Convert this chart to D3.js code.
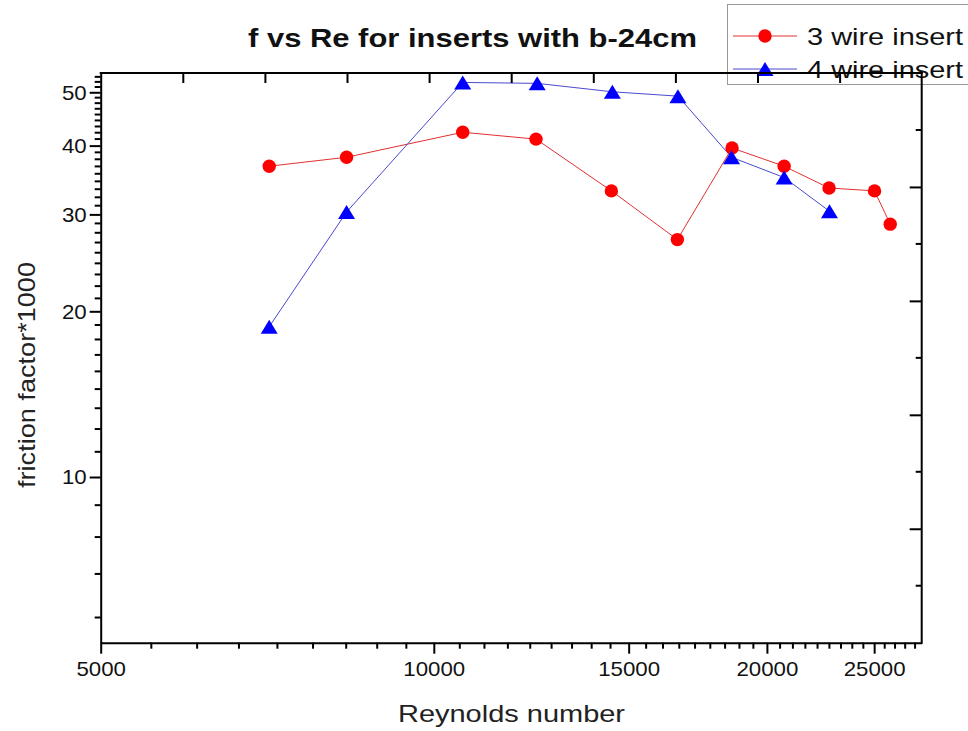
<!DOCTYPE html>
<html>
<head>
<meta charset="utf-8">
<script src="https://cdn.jsdelivr.net/npm/d3@7"></script>
<style>
  html, body { margin: 0; padding: 0; background: #fff; }
  svg { display: block; font-family: "Liberation Sans", Arial, sans-serif; }
</style>
</head>
<body>
<svg id="chart" width="968" height="731"></svg>
<script>
// ---- data ----
const seriesNames = ["3 wire insert", "4 wire insert"];
const re3 = [7100, 8340, 10620, 12370, 14470, 16600, 18600, 20730, 22760, 25020, 25850];
const f3  = [36.7, 38.1, 42.3, 41.1, 33.1, 27.0, 39.6, 36.7, 33.5, 33.1, 28.8];
const re4 = [7100, 8340, 10620, 12400, 14500, 16620, 18580, 20730, 22780];
const f4  = [18.75, 30.3, 52.1, 51.9, 50.1, 49.2, 38.1, 35.0, 30.4];
const xMajorTicks = [5000, 10000, 15000, 20000, 25000];
const yMajorTicks = [10, 20, 30, 40, 50];
const titleText = "f vs Re for inserts with b-24cm";
const xTitle = "Reynolds number";
const yTitle = "friction factor*1000";

// ---- layout ----
const L = 100.7, R = 921.7, T = 73, B = 642.7;
const svg = d3.select("#chart");
const stretch = 1.06;

const x = d3.scaleLog().domain([5000, 27600]).range([L, R]);
const y = d3.scaleLog().domain([5, 54.2]).range([B, T]);

// minor ticks (step = major step / 9)
const xMinor = [];
for (let k = 10; k < 50; k++) { const v = 5000 * k / 9; if (k % 9 !== 0 && v < 27600) xMinor.push(v); }
const yMinor = [];
for (let k = 5; k < 50; k++) { const v = 10 * k / 9; if (k % 9 !== 0 && v < 54.2) yMinor.push(v); }

// ---- legend (under the frame) ----
const lg = svg.append("g");
lg.append("rect").attr("x", 727.5).attr("y", 4.5).attr("width", 260).attr("height", 80)
  .attr("fill", "#fff").attr("stroke", "#999").attr("stroke-width", 1);

const triPath = (w, h) => `M0,${-h/2}L${w/2},${h/2}L${-w/2},${h/2}Z`;

// ---- series ----
const line = d3.line().x(d => x(d[0])).y(d => y(d[1]));
const d3pts = re3.map((v, i) => [v, f3[i]]);
const d4pts = re4.map((v, i) => [v, f4[i]]);

const plot = svg.append("g");
plot.append("path").datum(d3pts).attr("d", line).attr("fill", "none")
  .attr("stroke", "#e03030").attr("stroke-width", 1);
plot.append("path").datum(d4pts).attr("d", line).attr("fill", "none")
  .attr("stroke", "#4a4ad0").attr("stroke-width", 1);
plot.selectAll("circle.s3").data(d3pts).join("circle").attr("class", "s3")
  .attr("cx", d => x(d[0])).attr("cy", d => y(d[1])).attr("r", 6.7).attr("fill", "#ff0000");
plot.selectAll("path.s4").data(d4pts).join("path").attr("class", "s4")
  .attr("transform", d => `translate(${x(d[0])},${y(d[1])})`)
  .attr("d", triPath(17, 14)).attr("fill", "#0000ff");

// legend entries
const legY = [36, 69];
const legColors = ["#ff0000", "#0000ff"];
const legLine = ["#e03030", "#4a4ad0"];
seriesNames.forEach((name, i) => {
  lg.append("line").attr("x1", 733).attr("x2", 797).attr("y1", legY[i]).attr("y2", legY[i])
    .attr("stroke", legLine[i]).attr("stroke-width", 1);
  if (i === 0) {
    lg.append("circle").attr("cx", 765).attr("cy", legY[i]).attr("r", 6.7).attr("fill", legColors[i]);
  } else {
    lg.append("path").attr("transform", `translate(765,${legY[i]})`).attr("d", triPath(17, 14)).attr("fill", legColors[i]);
  }
  lg.append("text").attr("x", 807).attr("y", legY[i] + 9).attr("font-size", 24)
    .attr("textLength", 156).attr("lengthAdjust", "spacingAndGlyphs").attr("fill", "#111").text(name);
});

// ---- axes ----
function styleAxis(g) {
  g.select(".domain").attr("stroke", "#000").attr("stroke-width", 2);
  g.selectAll(".tick line").attr("stroke", "#000").attr("stroke-width", 2);
  g.selectAll(".tick text").attr("fill", "#111").attr("font-size", 21);
}
function stretchText(sel) {
  sel.each(function () {
    const len = this.getComputedTextLength();
    d3.select(this).attr("textLength", len * stretch).attr("lengthAdjust", "spacingAndGlyphs");
  });
}

// bottom major
const gx = svg.append("g").attr("transform", `translate(0,${B})`)
  .call(d3.axisBottom(x).tickValues(xMajorTicks).tickFormat(d3.format("d")).tickSize(11).tickPadding(7).tickSizeOuter(0));
styleAxis(gx);
stretchText(gx.selectAll(".tick text"));

// bottom minor ticks
const gxm = svg.append("g").attr("class", "xminor");
xMinor.forEach(v => {
  gxm.append("path").attr("d", `M${x(v)},${B}V${B + 6}`).attr("stroke", "#000").attr("stroke-width", 2).attr("fill", "none");
});

// left major
const gy = svg.append("g").attr("transform", `translate(${L},0)`)
  .call(d3.axisLeft(y).tickValues(yMajorTicks).tickFormat(d3.format("d")).tickSize(11).tickPadding(3).tickSizeOuter(0));
styleAxis(gy);
stretchText(gy.selectAll(".tick text"));

// left minor ticks
const gym = svg.append("g").attr("class", "yminor");
yMinor.forEach(v => {
  gym.append("path").attr("d", `M${L - 6},${y(v)}H${L}`).attr("stroke", "#000").attr("stroke-width", 2).attr("fill", "none");
});

// top (independent linear axis, inward ticks, no labels)
const xTop = d3.scaleLinear().domain([0, 10]).range([L, R]);
const gt = svg.append("g").attr("transform", `translate(0,${T})`)
  .call(d3.axisBottom(xTop).tickValues(d3.range(1, 10)).tickFormat("").tickSize(10).tickSizeOuter(0));
styleAxis(gt);
gt.select(".domain").attr("d", `M${L - 1},0H${R + 1}`);

// right (independent linear axis, inward ticks)
const yRight = d3.scaleLinear().domain([0, 10]).range([T, B]);
const gr = svg.append("g").attr("transform", `translate(${R},0)`)
  .call(d3.axisLeft(yRight).tickValues([2, 4, 6, 8]).tickFormat("").tickSize(12).tickSizeOuter(0));
styleAxis(gr);
gr.select(".domain").attr("d", `M0,${T - 1}V${B + 1}`);
svg.append("g").selectAll("line").data([1, 3, 5, 7, 9]).join("line")
  .attr("x1", R - 6).attr("x2", R).attr("y1", d => yRight(d)).attr("y2", d => yRight(d))
  .attr("stroke", "#000").attr("stroke-width", 2);

// ---- titles ----
svg.append("text").attr("x", 472.5).attr("y", 47).attr("text-anchor", "middle")
  .attr("font-size", 26).attr("font-weight", "bold").attr("fill", "#111")
  .attr("textLength", 449).attr("lengthAdjust", "spacingAndGlyphs").text(titleText);
svg.append("text").attr("x", 511.5).attr("y", 722).attr("text-anchor", "middle")
  .attr("font-size", 24).attr("fill", "#222")
  .attr("textLength", 227).attr("lengthAdjust", "spacingAndGlyphs").text(xTitle);
svg.append("text").attr("transform", "translate(35,375) rotate(-90)").attr("text-anchor", "middle")
  .attr("font-size", 24).attr("fill", "#222")
  .attr("textLength", 226).attr("lengthAdjust", "spacingAndGlyphs").text(yTitle);
</script>
</body>
</html>
